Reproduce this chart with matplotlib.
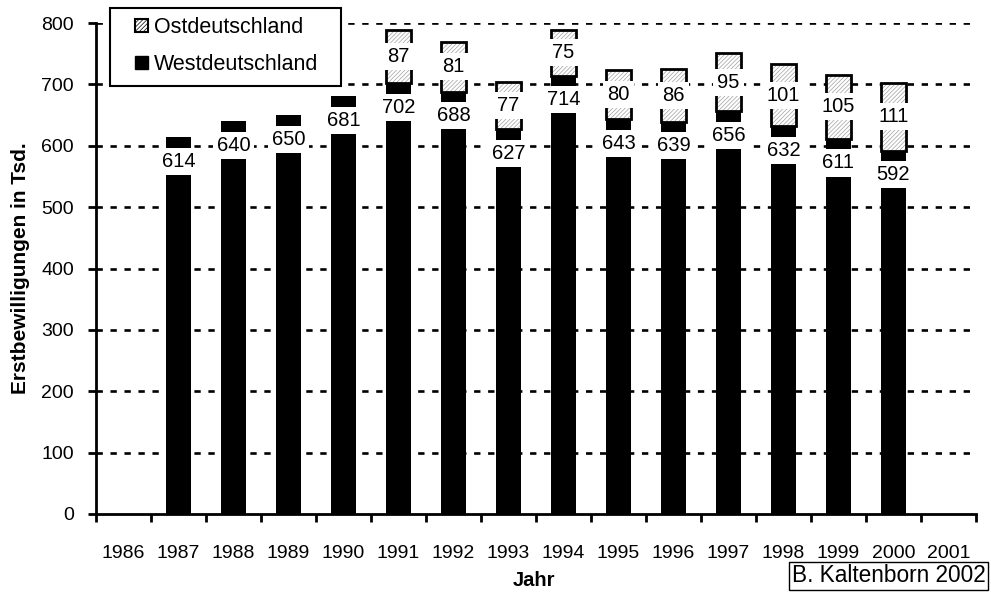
import matplotlib
matplotlib.use('Agg')
import matplotlib.pyplot as plt
from matplotlib.patches import Patch, Rectangle
import numpy as np

plt.rcParams['font.family'] = ['Liberation Sans', 'DejaVu Sans']
plt.rcParams['hatch.linewidth'] = 0.5

years = ['1986', '1987', '1988', '1989', '1990', '1991', '1992', '1993',
         '1994', '1995', '1996', '1997', '1998', '1999', '2000', '2001']
bar_years = ['1987', '1988', '1989', '1990', '1991', '1992', '1993',
             '1994', '1995', '1996', '1997', '1998', '1999', '2000']
west = [614, 640, 650, 681, 702, 688, 627, 714, 643, 639, 656, 632, 611, 592]
east = [0, 0, 0, 0, 87, 81, 77, 75, 80, 86, 95, 101, 105, 111]

W, H = 991, 594
fig = plt.figure(figsize=(W / 100, H / 100), dpi=100)
ax = fig.add_axes([96 / W, 80 / H, 880 / W, 491 / H])

x = np.array([years.index(y) for y in bar_years])
w = 0.47
west = np.array(west)
east = np.array(east)
has_e = east > 0

ax.bar(x, west, w, color='black', zorder=3)
# hatched east part: light gray hatch, then black outline on top
ax.bar(x[has_e], east[has_e], w, bottom=west[has_e], facecolor='white',
       edgecolor='#a0a0a0', hatch='////////', linewidth=0, zorder=3)
ax.bar(x[has_e], east[has_e], w, bottom=west[has_e], facecolor='none',
       edgecolor='black', linewidth=2, zorder=4)

box = dict(boxstyle='square,pad=0.2', fc='white', ec='none')
for xi, wv, ev in zip(x, west, east):
    ax.annotate(str(wv), xy=(xi, wv), xytext=(0, -24), textcoords='offset pixels',
                ha='center', va='center', fontsize=14.5, bbox=box, zorder=6)
    if ev > 0:
        ax.text(xi, wv + ev / 2, str(ev), ha='center', va='center', fontsize=14.5,
                bbox=box, zorder=6)

ax.set_xlim(-0.5, len(years) - 0.5)
ax.set_ylim(0, 800)
ax.set_yticks(range(0, 801, 100))
ax.tick_params(axis='y', labelsize=14, length=6, width=2, direction='out', pad=10)
for yv in range(100, 801, 100):
    ax.axhline(yv, color='black', lw=1.9, linestyle=(0, (2.4, 2.9)), zorder=1)

ax.set_xticks(np.arange(-0.5, len(years), 1))
ax.set_xticklabels([])
ax.set_xticks(np.arange(len(years)), minor=True)
ax.set_xticklabels(years, minor=True, fontsize=14)
ax.tick_params(axis='x', which='major', length=6, width=2, direction='out')
ax.tick_params(axis='x', which='minor', length=0, pad=22)

for s in ['top', 'right']:
    ax.spines[s].set_visible(False)
for s in ['left', 'bottom']:
    ax.spines[s].set_linewidth(2)

ax.set_xlabel('Jahr', fontsize=14.5, fontweight='bold')
ax.xaxis.set_label_coords(438 / 880, -57 / 491)
ax.set_ylabel('Erstbewilligungen in Tsd.', fontsize=15, fontweight='bold')
ax.yaxis.set_label_coords(-66 / 880, 0.5)

# legend frame drawn by hand (box is wider than its entries)
fig.patches.append(Rectangle((110 / W, 1 - 86 / H), 231 / W, 78 / H,
                             transform=fig.transFigure, facecolor='white',
                             edgecolor='black', lw=1.5, zorder=4))
handles = [Patch(facecolor='white', edgecolor='black', hatch='////////', lw=1.5),
           Patch(facecolor='black', edgecolor='black')]
leg = fig.legend(handles, ['Ostdeutschland', 'Westdeutschland'], loc='upper left',
                 bbox_to_anchor=(135 / W, 1 - 17 / H), fontsize=15.5, frameon=False,
                 handlelength=0.6, handleheight=0.6, handletextpad=0.3, borderpad=0,
                 labelspacing=0.75, borderaxespad=0)
leg.set_zorder(10)

fig.text(792 / W, 1 - 576 / H, 'B. Kaltenborn 2002', fontsize=16.3, ha='left',
         va='center', bbox=dict(boxstyle='square,pad=0.12', fc='white', ec='black', lw=1))

fig.savefig('out.png', dpi=100)
